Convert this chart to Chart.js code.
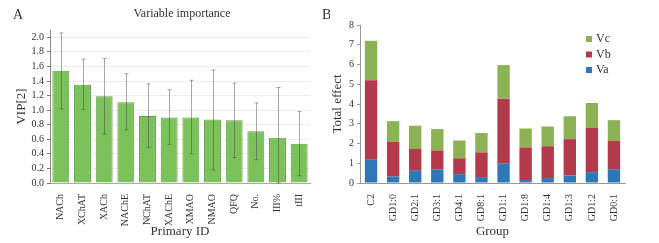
<!DOCTYPE html>
<html>
<head>
<meta charset="utf-8">
<script src="https://cdn.jsdelivr.net/npm/chart.js@4/dist/chart.umd.min.js"></script>
<style>
  body { margin: 0; background: #fff; }
  #wrap { position: relative; width: 659px; height: 243px; }
  #vipChart { position: absolute; left: 0; top: 0; }
  #effectChart { position: absolute; left: 330px; top: 0; }
</style>
</head>
<body>
<div id="wrap">
  <canvas id="vipChart" width="330" height="243"></canvas>
  <canvas id="effectChart" width="329" height="243"></canvas>
</div>
<script>
// panel A
const vipLabels = ["NACh", "XChAT", "XACh", "NAChE", "NChAT", "XAChE", "XMAO", "NMAO", "QFQ", "No.", "III%", "tIII"];
const vipValues = [1.54, 1.35, 1.19, 1.11, 0.92, 0.90, 0.90, 0.87, 0.86, 0.71, 0.62, 0.54];
const vipLow = [1.02, 1.01, 0.67, 0.73, 0.49, 0.53, 0.40, 0.18, 0.35, 0.32, 0.0, 0.10];
const vipHigh = [2.06, 1.70, 1.71, 1.50, 1.36, 1.28, 1.41, 1.55, 1.37, 1.10, 1.31, 0.98];

// panel B
const groups = ["C2", "GD1:0", "GD2:1", "GD3:1", "GD4:1", "GD8:1", "GD1:1", "GD1:8", "GD1:4", "GD1:3", "GD1:2", "GD0:1"];
const va = [1.18, 0.33, 0.62, 0.68, 0.45, 0.30, 1.00, 0.15, 0.25, 0.38, 0.55, 0.70];
const vb = [4.02, 1.75, 1.10, 0.97, 0.80, 1.25, 3.27, 1.65, 1.61, 1.84, 2.25, 1.43];
const vc = [2.00, 1.05, 1.18, 1.08, 0.90, 0.98, 1.70, 0.96, 1.00, 1.16, 1.25, 1.05];

const serif = "'Liberation Serif', 'Times New Roman', serif";
const txt = "#333";

Chart.defaults.font.family = serif;
Chart.defaults.color = txt;
Chart.defaults.animation = false;

// error bars for panel A
const errorBars = {
  id: "errorBars",
  afterDatasetsDraw(chart) {
    const ctx = chart.ctx;
    const y = chart.scales.y;
    const meta = chart.getDatasetMeta(0);
    ctx.save();
    ctx.strokeStyle = "rgba(60, 60, 60, 0.45)";
    ctx.lineWidth = 1;
    meta.data.forEach((bar, i) => {
      const x = Math.round(bar.x) + 0.5;
      const y1 = y.getPixelForValue(vipLow[i]);
      const y2 = y.getPixelForValue(vipHigh[i]);
      ctx.beginPath();
      ctx.moveTo(x, y1);
      ctx.lineTo(x, y2);
      ctx.moveTo(x - 2, y2);
      ctx.lineTo(x + 2, y2);
      ctx.moveTo(x - 2, y1);
      ctx.lineTo(x + 2, y1);
      ctx.stroke();
    });
    ctx.restore();
  },
};

// panel letters + title (both letters live on the left canvas)
const panelText = {
  id: "panelText",
  afterDraw(chart) {
    const ctx = chart.ctx;
    ctx.save();
    ctx.fillStyle = txt;
    ctx.textBaseline = "middle";
    ctx.font = "14px " + serif;
    ctx.fillText("A", 13, 15);
    ctx.fillText("B", 322, 15);
    ctx.font = "12px " + serif;
    ctx.textAlign = "center";
    ctx.fillText("Variable importance", 182, 14);
    ctx.restore();
  },
};

new Chart(document.getElementById("vipChart"), {
  type: "bar",
  data: {
    labels: vipLabels,
    datasets: [
      {
        data: vipValues,
        backgroundColor: "#7cc25a",
        borderColor: "#5f9e45",
        borderWidth: 1,
        barPercentage: 0.78,
        categoryPercentage: 1,
      },
    ],
  },
  options: {
    responsive: false,
    layout: { padding: { top: 30, left: 14, right: 20, bottom: 4 } },
    plugins: { legend: { display: false }, tooltip: { enabled: false } },
    scales: {
      x: {
        grid: { display: false },
        border: { color: "#aaa" },
        ticks: { minRotation: 90, maxRotation: 90, font: { size: 10 }, color: txt, padding: 3 },
        title: { display: true, text: "Primary ID", font: { size: 13 }, color: txt, padding: 0 },
        afterFit(s) { s.height = 56; },
      },
      y: {
        min: 0,
        max: 2.1,
        border: { color: "#888" },
        grid: { color: "#ececec", tickColor: "#777", tickLength: 3 },
        ticks: {
          stepSize: 0.1,
          maxTicksLimit: 30,
          font: { size: 10 },
          color: txt,
          padding: 3,
          callback: (v) => {
            const r = Math.round(v * 10);
            return r % 2 === 0 && r <= 20 ? (r / 10).toFixed(1) : "";
          },
        },
        title: { display: true, text: "VIP[2]", font: { size: 13 }, color: txt, padding: 0 },
        afterFit(s) { s.width = 36; },
      },
    },
  },
  plugins: [errorBars, panelText],
});

// legend drawn inside the plot for panel B
const insideLegend = {
  id: "insideLegend",
  afterDraw(chart) {
    const ctx = chart.ctx;
    const ds = chart.data.datasets.slice().reverse();
    ctx.save();
    ctx.font = "12px " + serif;
    ctx.textBaseline = "middle";
    ds.forEach((d, i) => {
      const yy = 39 + i * 15.5;
      ctx.fillStyle = d.backgroundColor;
      ctx.fillRect(256, yy - 3, 6, 6);
      ctx.fillStyle = txt;
      ctx.fillText(d.label, 266, yy);
    });
    ctx.restore();
  },
};

new Chart(document.getElementById("effectChart"), {
  type: "bar",
  data: {
    labels: groups,
    datasets: [
      { label: "Va", data: va, backgroundColor: "#2f78b7" },
      { label: "Vb", data: vb, backgroundColor: "#b23a4a" },
      { label: "Vc", data: vc, backgroundColor: "#8db253" },
    ].map((d) => ({ ...d, barPercentage: 0.56, categoryPercentage: 1, borderWidth: 0 })),
  },
  options: {
    responsive: false,
    layout: { padding: { top: 25, left: 0, right: 34, bottom: 4 } },
    plugins: { legend: { display: false }, tooltip: { enabled: false } },
    scales: {
      x: {
        stacked: true,
        grid: { display: false },
        border: { color: "#999" },
        ticks: { minRotation: 90, maxRotation: 90, font: { size: 10 }, color: txt, padding: 3 },
        title: { display: true, text: "Group", font: { size: 13 }, color: txt, padding: 0 },
        afterFit(s) { s.height = 56; },
      },
      y: {
        stacked: true,
        min: 0,
        max: 8,
        border: { color: "#999" },
        grid: { drawOnChartArea: false, tickColor: "#999", tickLength: 3 },
        ticks: { stepSize: 1, font: { size: 10 }, color: txt, padding: 3 },
        title: { display: true, text: "Total effect", font: { size: 13 }, color: txt, padding: 0 },
        afterFit(s) { s.width = 30; },
      },
    },
  },
  plugins: [insideLegend],
});
</script>
</body>
</html>
